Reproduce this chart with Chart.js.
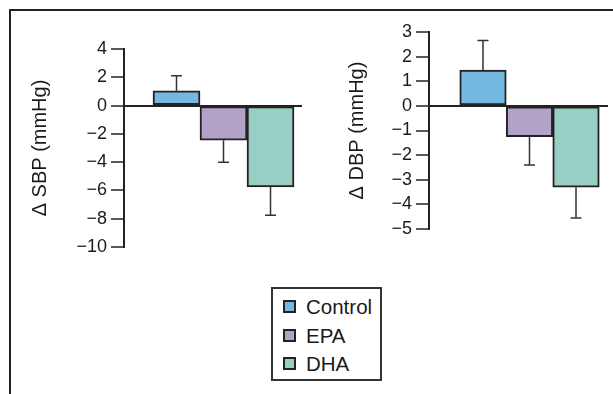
<!DOCTYPE html>
<html>
<head>
<meta charset="utf-8">
<script src="https://cdn.jsdelivr.net/npm/chart.js@4.4.1/dist/chart.umd.min.js"></script>
<style>
    html, body { margin: 0; padding: 0; background: #fff; }
    body { width: 613px; height: 394px; position: relative; overflow: hidden; font-family: 'Liberation Sans', Arial, sans-serif; }
    #frame { position: absolute; left: 9px; top: 9px; width: 700px; height: 500px; border-top: 2px solid #222; border-left: 2px solid #222; }
    #sbp_cont { position: absolute; left: 12px; top: 30px; }
    #dbp_cont { position: absolute; left: 310px; top: 13px; }
    #legend { position: absolute; left: 271px; top: 287px; width: 107px; height: 90px; border: 2px solid #333; }
    .item { position: absolute; left: 10px; height: 24px; line-height: 24px; font-size: 20.5px; color: #1a1a1a; }
    .item span { display: inline-block; width: 9px; height: 9px; border: 2px solid #222; margin-right: 10px; vertical-align: 1px; }
</style>
</head>
<body>
<div id="frame"></div>
<canvas id="sbp_cont" width="295" height="240"></canvas>
<canvas id="dbp_cont" width="303" height="240"></canvas>
<div id="legend"></div>

<script>
const groups = ['Control', 'EPA', 'DHA'];
const groupColors = ['#74b9e2', '#b3a2c8', '#98cec4'];

// change in systolic / diastolic pressure, mmHg (mean and SE)
const sbpMean = [1.05, -2.45, -5.75];
const sbpErr = [1.05, 1.55, 2.0];
const dbpMean = [1.45, -1.25, -3.3];
const dbpErr = [1.2, 1.15, 1.25];

const sbpTicks = [4, 2, 0, -2, -4, -6, -8, -10];
const dbpTicks = [3, 2, 1, 0, -1, -2, -3, -4, -5];

const fontFamily = "'Liberation Sans', Arial, sans-serif";

// one-sided error bars, pointing away from zero
const errorBars = {
    id: 'errorBars',
    afterDatasetsDraw(chart, args, opts) {
        const ctx = chart.ctx;
        const meta = chart.getDatasetMeta(0);
        const yScale = chart.scales.y;
        const ds = chart.data.datasets[0];
        ctx.save();
        ctx.strokeStyle = '#333';
        ctx.lineWidth = 1.5;
        meta.data.forEach((bar, i) => {
            const v = ds.data[i].y;
            const e = opts.errors[i];
            const y1 = yScale.getPixelForValue(v);
            const y2 = yScale.getPixelForValue(v + Math.sign(v) * e);
            ctx.beginPath();
            ctx.moveTo(bar.x, y1);
            ctx.lineTo(bar.x, y2);
            ctx.moveTo(bar.x - 5.5, y2);
            ctx.lineTo(bar.x + 5.5, y2);
            ctx.stroke();
        });
        ctx.restore();
    }
};

function makeChart(canvas, means, errors, ticks, title, opt) {
    return new Chart(canvas, {
        type: 'bar',
        data: {
            datasets: [{
                data: means.map((m, i) => ({ x: i + 1, y: m })),
                backgroundColor: groupColors,
                borderColor: '#222',
                borderWidth: 2,
                borderSkipped: false,
                barPercentage: 1,
                categoryPercentage: 1
            }]
        },
        options: {
            responsive: false,
            animation: false,
            devicePixelRatio: 1,
            layout: {
                padding: { left: 0, top: 19, right: 5, bottom: opt.bottom }
            },
            scales: {
                x: {
                    type: 'linear',
                    display: false,
                    offset: false,
                    min: opt.xMin,
                    max: opt.xMax
                },
                y: {
                    min: ticks[ticks.length - 1],
                    max: ticks[0],
                    afterBuildTicks: (scale) => { scale.ticks = ticks.map(v => ({ value: v })); },
                    afterFit: (scale) => { scale.width = opt.axisWidth; },
                    border: { display: true, color: '#222', width: 2 },
                    grid: {
                        color: (c) => c.tick && c.tick.value === 0 ? '#222' : 'rgba(0,0,0,0)',
                        lineWidth: 2,
                        tickColor: '#222',
                        tickWidth: 1.5,
                        tickLength: 13
                    },
                    ticks: {
                        color: '#1a1a1a',
                        padding: 4,
                        font: { family: fontFamily, size: 18 },
                        callback: (v) => String(v).replace('-', '\u2212')
                    },
                    title: {
                        display: true,
                        text: title,
                        color: '#1a1a1a',
                        font: { family: fontFamily, size: 20 },
                        padding: { top: opt.titlePad, bottom: 0 }
                    }
                }
            },
            plugins: {
                legend: { display: false },
                tooltip: { enabled: false },
                errorBars: { errors: errors }
            }
        },
        plugins: [errorBars]
    });
}

makeChart(document.getElementById('sbp_cont'), sbpMean, sbpErr, sbpTicks, '\u0394 SBP (mmHg)',
    { axisWidth: 112, titlePad: 16, bottom: 23, xMin: -0.117, xMax: 3.67 });
makeChart(document.getElementById('dbp_cont'), dbpMean, dbpErr, dbpTicks, '\u0394 DBP (mmHg)',
    { axisWidth: 119, titlePad: 35, bottom: 24, xMin: -0.161, xMax: 3.688 });

// legend box
const legend = document.getElementById('legend');
groups.forEach((g, i) => {
    const row = document.createElement('div');
    row.className = 'item';
    row.style.top = (6 + i * 28.5) + 'px';
    const sw = document.createElement('span');
    sw.style.background = groupColors[i];
    row.appendChild(sw);
    row.appendChild(document.createTextNode(g));
    legend.appendChild(row);
});
</script>
</body>
</html>
